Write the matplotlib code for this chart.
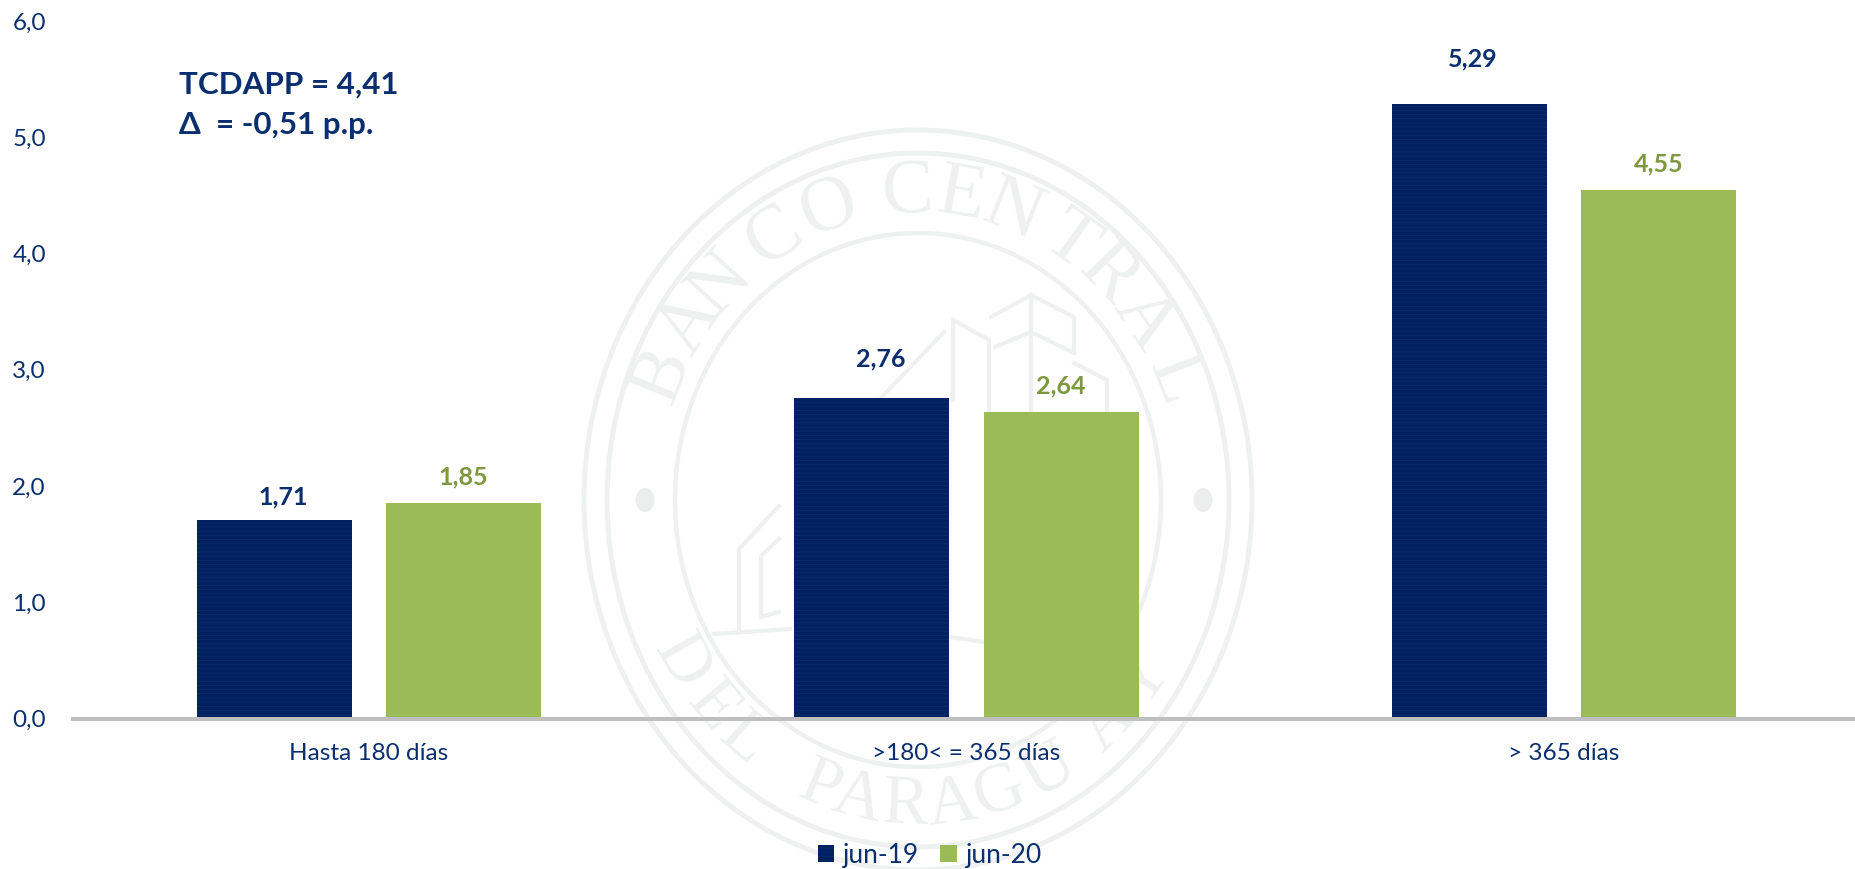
import numpy as np
import matplotlib
matplotlib.use("Agg")
import matplotlib.pyplot as plt
from matplotlib.patches import Ellipse

plt.rcParams['font.family'] = ['Lato', 'DejaVu Sans']
plt.rcParams['hatch.linewidth'] = 0.7

# ---- data ----
categories = ["Hasta 180 días", ">180< = 365 días", "> 365 días"]
jun19 = [1.71, 2.76, 5.29]
jun20 = [1.85, 2.64, 4.55]
series_names = ["jun-19", "jun-20"]
y_ticks = [0, 1, 2, 3, 4, 5, 6]
note_lines = ["TCDAPP = 4,41", "Δ  = -0,51 p.p."]

# ---- style ----
NAVY = "#002060"
STRIPE = "#0A2B6C"
GREEN = "#9BBB59"
TXT = "#0B2F6E"
LBLGREEN = "#7E983F"
AXIS = "#BFBFBF"
WM = "#EEF1F0"
W, H = 1856, 869
X0, X1, Y0, Y6 = 71, 1856, 718.5, 21
STEP = 597.5
C0 = 368.9

# label offsets in pixels (dx, dy) from the bar top centre
off19 = [(9, 23), (9, 39), (4, 45)]
off20 = [(0, 26.5), (0, 26), (0, 26)]

fig = plt.figure(figsize=(W / 100, H / 100), dpi=100, facecolor="white")

# ---- watermark seal, in pixel coordinates ----
bg = fig.add_axes([0, 0, 1, 1], zorder=0)
bg.set_xlim(0, W)
bg.set_ylim(H, 0)
bg.axis("off")
cx, cy = 918, 500
for a, b, lw in [(334, 370, 3.6), (311, 347, 3.6), (243, 267, 3.2)]:
    bg.add_patch(Ellipse((cx, cy), 2 * a, 2 * b, fill=False, ec=WM, lw=lw))
for x in (645, 1203):
    bg.add_patch(Ellipse((x, 500), 19, 24, fc="#ECEEED", ec="none"))

ra, rb = 279, 307
top_text = list("BANCOCENTRAL")
top_ang = [-66, -55, -45, -31, -18.5, -2, 9, 20, 33, 43, 54, 67]
for ch, t in zip(top_text, top_ang):
    r = np.radians(t)
    x, y = cx + ra * np.sin(r), cy - rb * np.cos(r)
    rot = -np.degrees(np.arctan2(rb * np.sin(r), ra * np.cos(r)))
    bg.text(x, y, ch, family="Liberation Serif", fontsize=56, color=WM,
            ha="center", va="center", rotation=rot, rotation_mode="anchor")
bot_text = list("DELPARAGUAY")
bot_ang = [-58, -47.5, -38.5, -20.5, -12.5, -2.5, 7, 17, 28, 43, 54]
for ch, t in zip(bot_text, bot_ang):
    r = np.radians(t)
    x, y = cx + ra * np.sin(r), cy + rb * np.cos(r)
    rot = np.degrees(np.arctan2(rb * np.sin(r), ra * np.cos(r)))
    bg.text(x, y, ch, family="Liberation Serif", fontsize=50, color=WM,
            ha="center", va="center", rotation=rot, rotation_mode="anchor")

buildings = [
    [(991, 317), (1031, 295), (1074, 317), (1074, 350)],
    [(995, 347), (1031, 332), (1074, 353)],
    [(1031, 295), (1031, 410)],
    [(953, 320), (989, 340), (989, 410)],
    [(953, 320), (953, 400)],
    [(944, 332), (881, 398)],
    [(1074, 363), (1107, 380), (1107, 410)],
    [(779, 506), (739, 549), (739, 629)],
    [(779, 539), (761, 556), (761, 617), (779, 612)],
    [(714, 634), (790, 629)],
    [(950, 637), (984, 642)],
]
for seg in buildings:
    xs, ys = zip(*seg)
    bg.plot(xs, ys, color=WM, lw=3.0, solid_joinstyle="miter")

# ---- chart ----
ax = fig.add_axes([X0 / W, 1 - Y0 / H, (X1 - X0) / W, (Y0 - Y6) / H], zorder=1)
ax.patch.set_alpha(0)
ax.set_xlim((X0 - C0) / STEP, (X1 - C0) / STEP)
ax.set_ylim(0, 6)
pos = np.arange(len(categories))
bw, sh = 155 / STEP, 94.7 / STEP
b1 = ax.bar(pos - sh, jun19, bw, color=NAVY, edgecolor=STRIPE, hatch="----", lw=0, label=series_names[0])
b2 = ax.bar(pos + sh, jun20, bw, color=GREEN, lw=0, label=series_names[1])

for bars, vals, offs, col in [(b1, jun19, off19, TXT), (b2, jun20, off20, LBLGREEN)]:
    for rect, v, (dx, dy) in zip(bars, vals, offs):
        ax.annotate(f"{v:.2f}".replace(".", ","),
                    (rect.get_x() + rect.get_width() / 2, v),
                    xytext=(dx * 0.72, dy * 0.72), textcoords="offset points",
                    ha="center", va="center", fontsize=18, fontweight="bold", color=col)

ax.set_yticks(y_ticks)
ax.set_yticklabels([f"{v:.1f}".replace(".", ",") for v in y_ticks], fontsize=17.5, color=TXT)
ax.set_xticks(pos)
ax.set_xticklabels(categories, fontsize=17.6, color=TXT)
ax.tick_params(axis="both", length=0)
ax.tick_params(axis="y", pad=18)
ax.tick_params(axis="x", pad=18)
for s in ("top", "right", "left"):
    ax.spines[s].set_visible(False)
ax.spines["bottom"].set_color(AXIS)
ax.spines["bottom"].set_linewidth(2.9)
ax.spines["bottom"].set_capstyle("butt")

for line, yy in zip(note_lines, (85, 125)):
    fig.text(179 / W, 1 - yy / H, line, fontsize=22.6, fontweight="bold", color=TXT,
             ha="left", va="center")

leg = ax.legend(loc="lower center", bbox_to_anchor=(930 / W, 1 / H), bbox_transform=fig.transFigure,
                ncol=2, frameon=False, fontsize=19, labelcolor=TXT,
                handlelength=0.62, handleheight=0.62, handletextpad=0.35, columnspacing=0.8,
                borderpad=0, borderaxespad=0)

fig.savefig("out.png", dpi=100)
